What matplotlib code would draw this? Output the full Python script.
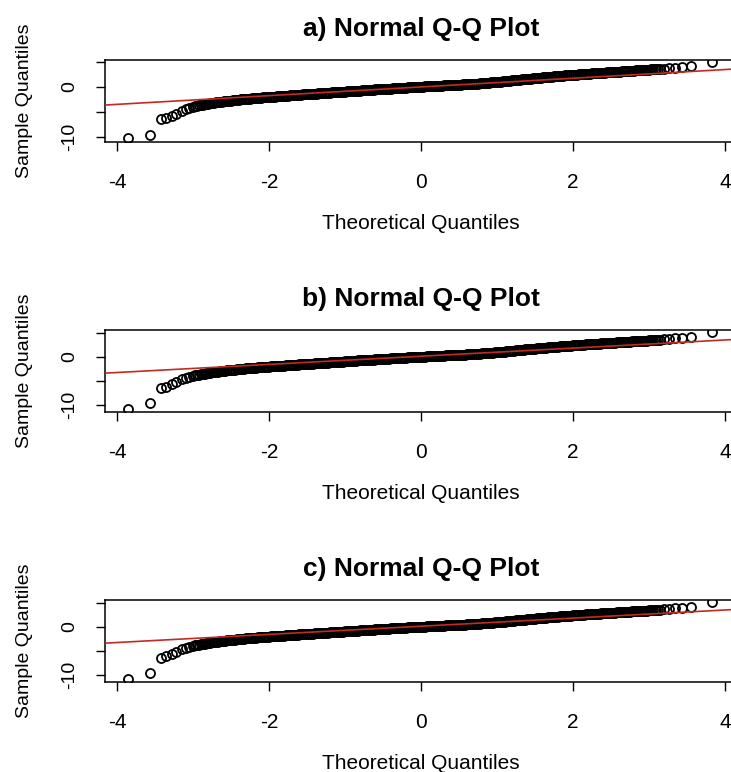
import matplotlib
matplotlib.use('Agg')
import matplotlib.pyplot as plt

plt.rcParams['font.family'] = ['Liberation Sans', 'DejaVu Sans']

# ---- data ----------------------------------------------------------------
panel_titles = ['a) Normal Q-Q Plot', 'b) Normal Q-Q Plot', 'c) Normal Q-Q Plot']
x_label = 'Theoretical Quantiles'
y_label = 'Sample Quantiles'
x_ticks = [-4, -2, 0, 2, 4]
y_ticks = [-10, -5, 0, 5]
y_tick_labels = ['-10', '', '0', '']

# dense middle part of the point cloud (looks the same in the three panels)
band_theo = [
    -3.000, -2.975, -2.950, -2.925, -2.900, -2.875, -2.850, -2.825, -2.800, -2.775,
    -2.750, -2.725, -2.700, -2.675, -2.650, -2.625, -2.600, -2.575, -2.550, -2.525,
    -2.500, -2.475, -2.450, -2.425, -2.400, -2.375, -2.350, -2.325, -2.300, -2.275,
    -2.250, -2.225, -2.200, -2.175, -2.150, -2.125, -2.100, -2.075, -2.050, -2.025,
    -2.000, -1.975, -1.950, -1.925, -1.900, -1.875, -1.850, -1.825, -1.800, -1.775,
    -1.750, -1.725, -1.700, -1.675, -1.650, -1.625, -1.600, -1.575, -1.550, -1.525,
    -1.500, -1.475, -1.450, -1.425, -1.400, -1.375, -1.350, -1.325, -1.300, -1.275,
    -1.250, -1.225, -1.200, -1.175, -1.150, -1.125, -1.100, -1.075, -1.050, -1.025,
    -1.000, -0.975, -0.950, -0.925, -0.900, -0.875, -0.850, -0.825, -0.800, -0.775,
    -0.750, -0.725, -0.700, -0.675, -0.650, -0.625, -0.600, -0.575, -0.550, -0.525,
    -0.500, -0.475, -0.450, -0.425, -0.400, -0.375, -0.350, -0.325, -0.300, -0.275,
    -0.250, -0.225, -0.200, -0.175, -0.150, -0.125, -0.100, -0.075, -0.050, -0.025,
    0.000, 0.025, 0.050, 0.075, 0.100, 0.125, 0.150, 0.175, 0.200, 0.225,
    0.250, 0.275, 0.300, 0.325, 0.350, 0.375, 0.400, 0.425, 0.450, 0.475,
    0.500, 0.525, 0.550, 0.575, 0.600, 0.625, 0.650, 0.675, 0.700, 0.725,
    0.750, 0.775, 0.800, 0.825, 0.850, 0.875, 0.900, 0.925, 0.950, 0.975,
    1.000, 1.025, 1.050, 1.075, 1.100, 1.125, 1.150, 1.175, 1.200, 1.225,
    1.250, 1.275, 1.300, 1.325, 1.350, 1.375, 1.400, 1.425, 1.450, 1.475,
    1.500, 1.525, 1.550, 1.575, 1.600, 1.625, 1.650, 1.675, 1.700, 1.725,
    1.750, 1.775, 1.800, 1.825, 1.850, 1.875, 1.900, 1.925, 1.950, 1.975,
    2.000, 2.025, 2.050, 2.075, 2.100, 2.125, 2.150, 2.175, 2.200, 2.225,
    2.250, 2.275, 2.300, 2.325, 2.350, 2.375, 2.400, 2.425, 2.450, 2.475,
    2.500, 2.525, 2.550, 2.575, 2.600, 2.625, 2.650, 2.675, 2.700, 2.725,
    2.750, 2.775, 2.800, 2.825, 2.850, 2.875, 2.900, 2.925, 2.950, 2.975,
    3.000, 3.025, 3.050, 3.075, 3.100, 3.125, 3.150]
band_sample = [
    -4.01, -3.92, -3.84, -3.75, -3.67, -3.59, -3.52, -3.45, -3.39, -3.32,
    -3.26, -3.20, -3.15, -3.10, -3.05, -2.99, -2.94, -2.89, -2.85, -2.81,
    -2.77, -2.72, -2.68, -2.64, -2.60, -2.56, -2.52, -2.48, -2.45, -2.41,
    -2.38, -2.34, -2.30, -2.27, -2.24, -2.21, -2.18, -2.14, -2.11, -2.08,
    -2.05, -2.02, -2.00, -1.97, -1.94, -1.91, -1.89, -1.86, -1.84, -1.80,
    -1.77, -1.74, -1.72, -1.69, -1.67, -1.64, -1.61, -1.58, -1.56, -1.53,
    -1.51, -1.48, -1.45, -1.42, -1.40, -1.37, -1.34, -1.31, -1.29, -1.26,
    -1.24, -1.21, -1.18, -1.15, -1.13, -1.10, -1.08, -1.05, -1.03, -1.00,
    -0.98, -0.95, -0.93, -0.90, -0.87, -0.84, -0.82, -0.79, -0.77, -0.74,
    -0.71, -0.68, -0.66, -0.64, -0.62, -0.59, -0.56, -0.53, -0.51, -0.49,
    -0.47, -0.44, -0.42, -0.39, -0.37, -0.34, -0.32, -0.29, -0.27, -0.24,
    -0.22, -0.19, -0.17, -0.15, -0.13, -0.11, -0.09, -0.06, -0.04, -0.02,
    0.00, 0.02, 0.04, 0.07, 0.09, 0.11, 0.13, 0.15, 0.17, 0.19,
    0.21, 0.23, 0.25, 0.27, 0.28, 0.30, 0.32, 0.34, 0.36, 0.38,
    0.40, 0.42, 0.44, 0.46, 0.48, 0.50, 0.52, 0.55, 0.57, 0.60,
    0.62, 0.66, 0.69, 0.72, 0.75, 0.78, 0.81, 0.85, 0.88, 0.91,
    0.94, 0.98, 1.01, 1.05, 1.09, 1.13, 1.16, 1.20, 1.24, 1.28,
    1.32, 1.36, 1.40, 1.44, 1.47, 1.51, 1.55, 1.59, 1.63, 1.67,
    1.71, 1.75, 1.78, 1.81, 1.84, 1.88, 1.92, 1.95, 1.98, 2.02,
    2.05, 2.09, 2.12, 2.15, 2.18, 2.21, 2.24, 2.28, 2.31, 2.34,
    2.37, 2.40, 2.42, 2.45, 2.48, 2.51, 2.53, 2.56, 2.58, 2.61,
    2.64, 2.67, 2.69, 2.72, 2.74, 2.77, 2.80, 2.83, 2.85, 2.88,
    2.91, 2.93, 2.95, 2.98, 3.00, 3.03, 3.06, 3.09, 3.11, 3.14,
    3.16, 3.19, 3.21, 3.24, 3.26, 3.29, 3.31, 3.34, 3.36, 3.39,
    3.41, 3.44, 3.47, 3.50, 3.53, 3.56, 3.59]

# separate points in the tails, one set per panel
low_theo = [-3.855, -3.57, -3.42, -3.36, -3.28, -3.22, -3.15, -3.09, -3.05]
low_a = [-10.34, -9.68, -6.45, -6.30, -5.80, -5.40, -4.85, -4.40, -4.20]
low_b = [-10.90, -9.75, -6.60, -6.27, -5.80, -5.36, -4.73, -4.35, -4.25]
low_c = [-10.90, -9.60, -6.50, -6.20, -5.70, -5.30, -4.70, -4.35, -4.22]

high_theo = [3.20, 3.27, 3.35, 3.44, 3.55, 3.83]
high_a = [3.62, 3.70, 3.82, 3.95, 4.05, 4.95]
high_b = [3.65, 3.75, 3.90, 4.00, 4.10, 5.20]
high_c = [3.62, 3.72, 3.85, 3.98, 4.08, 5.15]

# qqline of each panel
line_slope = [0.87, 0.85, 0.85]
line_intercept = [-0.05, 0.10, 0.10]

y_limits = [(-11.1, 5.4), (-11.6, 5.65), (-11.6, 5.65)]
x_limits = (-4.16, 4.16)

# ---- layout in pixels of the 731x772 picture ------------------------------
W, H = 731, 772
AX_LEFT, AX_WIDTH = 105, 632
AX_TOPS = [59.7, 329.7, 599.7]
AX_HEIGHT = 82.5
TITLE_GAP = 31       # title centre above the box
XLABEL_GAP = 81      # x label centre below the box

fig = plt.figure(figsize=(W / 100, H / 100), dpi=100)

lows = [low_a, low_b, low_c]
highs = [high_a, high_b, high_c]

for i, title in enumerate(panel_titles):
    top = AX_TOPS[i]
    ax = fig.add_axes([AX_LEFT / W, 1 - (top + AX_HEIGHT) / H,
                       AX_WIDTH / W, AX_HEIGHT / H])

    xs = low_theo + band_theo + high_theo
    ys = lows[i] + band_sample + highs[i]
    ax.plot(xs, ys, linestyle='none', marker='o', markersize=6.5,
            markerfacecolor='none', markeredgecolor='black',
            markeredgewidth=1.3, zorder=2)
    ax.axline((0, line_intercept[i]), slope=line_slope[i],
              color='#c42a22', linewidth=1.2, zorder=3)

    ax.set_xlim(*x_limits)
    ax.set_ylim(*y_limits[i])
    ax.set_xticks(x_ticks)
    ax.set_xticklabels([str(v) for v in x_ticks], fontsize=15)
    ax.set_yticks(y_ticks)
    ax.set_yticklabels(y_tick_labels, fontsize=14, rotation=90, va='center')
    ax.tick_params(axis='both', direction='out', length=6.5, width=1,
                   color='black')
    ax.tick_params(axis='x', pad=16)
    ax.tick_params(axis='y', pad=13)
    for sp in ax.spines.values():
        sp.set_linewidth(1.1)
        sp.set_color('black')

    ax.set_title(title, fontsize=19, fontweight='bold', pad=0,
                 y=1 + TITLE_GAP / AX_HEIGHT, va='center')
    ax.set_xlabel(x_label, fontsize=15, va='center')
    ax.xaxis.set_label_coords(0.5, -XLABEL_GAP / AX_HEIGHT)
    ax.set_ylabel(y_label, fontsize=14, va='center', ha='center')
    ax.yaxis.set_label_coords((24 - AX_LEFT) / AX_WIDTH, 0.5)

fig.savefig('out.png', dpi=100)
